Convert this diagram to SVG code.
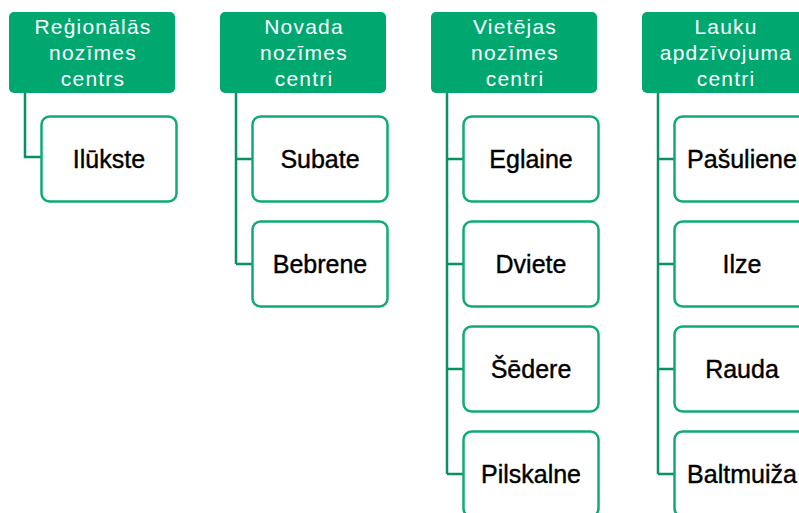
<svg xmlns="http://www.w3.org/2000/svg" width="799" height="513" viewBox="0 0 799 513">
<defs>
<style>
.hd{fill:#00A870;}
.ht{fill:#fff;font-family:"Liberation Sans",Arial,sans-serif;font-size:21px;letter-spacing:1.2px;text-anchor:middle;}
.bx{fill:#fff;stroke:#10AB74;stroke-width:2.5;}
.bt{fill:#000;stroke:#000;stroke-width:0.4;font-family:"Liberation Sans",Arial,sans-serif;font-size:25px;text-anchor:middle;}
.cn{fill:none;stroke:#0A9162;stroke-width:2.5;}
</style>
</defs>
<rect width="799" height="513" fill="#fff"/>
<g id="connectors">
<path class="cn" d="M25,93 V157 H41"/>
<path class="cn" d="M236,93 V264 M236,159 H252 M236,264 H252"/>
<path class="cn" d="M447,93 V474 M447,159 H463 M447,264 H463 M447,369 H463 M447,474 H463"/>
<path class="cn" d="M658,93 V474 M658,159 H674 M658,264 H674 M658,369 H674 M658,474 H674"/>
</g>
<g id="h1"><rect class="hd" x="9" y="12" width="166" height="81" rx="5"/>
<text class="ht" x="93" y="34">Reģionālās</text><text class="ht" x="93" y="60">nozīmes</text><text class="ht" x="93" y="86">centrs</text></g>
<g id="h2"><rect class="hd" x="220" y="12" width="166" height="81" rx="5"/>
<text class="ht" x="304" y="34">Novada</text><text class="ht" x="304" y="60">nozīmes</text><text class="ht" x="304" y="86">centri</text></g>
<g id="h3"><rect class="hd" x="431" y="12" width="166" height="81" rx="5"/>
<text class="ht" x="515" y="34">Vietējas</text><text class="ht" x="515" y="60">nozīmes</text><text class="ht" x="515" y="86">centri</text></g>
<g id="h4"><rect class="hd" x="642" y="12" width="166" height="81" rx="5"/>
<text class="ht" x="726" y="34">Lauku</text><text class="ht" x="726" y="60">apdzīvojuma</text><text class="ht" x="726" y="86">centri</text></g>
<g id="n1"><rect class="bx" x="41.5" y="116.5" width="135" height="85" rx="8"/><text class="bt" x="109" y="168">Ilūkste</text></g>
<g id="n2"><rect class="bx" x="252.5" y="116.5" width="135" height="85" rx="8"/><text class="bt" x="320" y="168">Subate</text></g>
<g id="n3"><rect class="bx" x="252.5" y="221.5" width="135" height="85" rx="8"/><text class="bt" x="320" y="273">Bebrene</text></g>
<g id="n4"><rect class="bx" x="463.5" y="116.5" width="135" height="85" rx="8"/><text class="bt" x="531" y="168">Eglaine</text></g>
<g id="n5"><rect class="bx" x="463.5" y="221.5" width="135" height="85" rx="8"/><text class="bt" x="531" y="273">Dviete</text></g>
<g id="n6"><rect class="bx" x="463.5" y="326.5" width="135" height="85" rx="8"/><text class="bt" x="531" y="378">Šēdere</text></g>
<g id="n7"><rect class="bx" x="463.5" y="431.5" width="135" height="85" rx="8"/><text class="bt" x="531" y="483">Pilskalne</text></g>
<g id="n8"><rect class="bx" x="674.5" y="116.5" width="135" height="85" rx="8"/><text class="bt" x="742" y="168">Pašuliene</text></g>
<g id="n9"><rect class="bx" x="674.5" y="221.5" width="135" height="85" rx="8"/><text class="bt" x="742" y="273">Ilze</text></g>
<g id="n10"><rect class="bx" x="674.5" y="326.5" width="135" height="85" rx="8"/><text class="bt" x="742" y="378">Rauda</text></g>
<g id="n11"><rect class="bx" x="674.5" y="431.5" width="135" height="85" rx="8"/><text class="bt" x="742" y="483">Baltmuiža</text></g>
</svg>
